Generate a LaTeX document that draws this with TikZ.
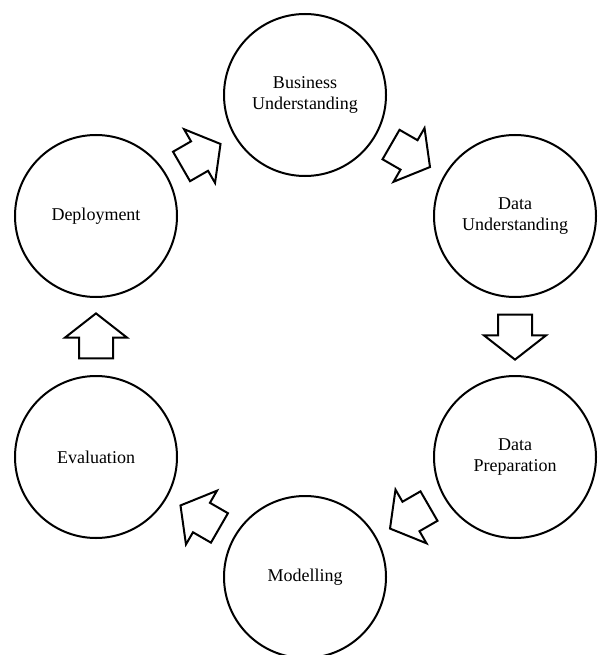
\documentclass[tikz,border=0pt]{standalone}
\usepackage{fontspec}
\setmainfont{Liberation Serif}
\usetikzlibrary{positioning,calc,shapes.arrows}

\begin{document}
\begin{tikzpicture}[x=1pt,y=-1pt,
  phase/.style = {shape=circle, draw, line width=2pt,
    minimum size=162pt, inner sep=0pt, align=center,
    font=\fontsize{18}{21}\selectfont},
  flow/.style = {shape=single arrow, draw, line width=2pt,
    minimum height=45pt, minimum width=60pt,
    inner xsep=0pt, inner ysep=16pt,
    single arrow head extend=14pt, single arrow tip angle=104}
  ]
  \useasboundingbox (0,0) rectangle (602,655);
  % phases of the cycle
  \node[phase] (bu) at (305,95)  {Business\\Understanding};
  \node[phase] (du) at (515,216) {Data\\Understanding};
  \node[phase] (dp) at (515,457) {Data\\Preparation};
  \node[phase] (mo) at (305,577) {Modelling};
  \node[phase] (ev) at (96,457)  {Evaluation};
  \node[phase] (de) at (96,216)  {Deployment};
  % block arrows between phases
  \node[flow, rotate=-30] (bu-du) at ($(bu)!0.475!(du)$) {};
  \node[flow, rotate=-90] (du-dp) at ($(du)!0.475!(dp)$) {};
  \node[flow, rotate=-150] (dp-mo) at ($(dp)!0.475!(mo)$) {};
  \node[flow, rotate=150] (mo-ev) at ($(mo)!0.475!(ev)$) {};
  \node[flow, rotate=90] (ev-de) at ($(ev)!0.475!(de)$) {};
  \node[flow, rotate=30] (de-bu) at ($(de)!0.475!(bu)$) {};
\end{tikzpicture}
\end{document}
